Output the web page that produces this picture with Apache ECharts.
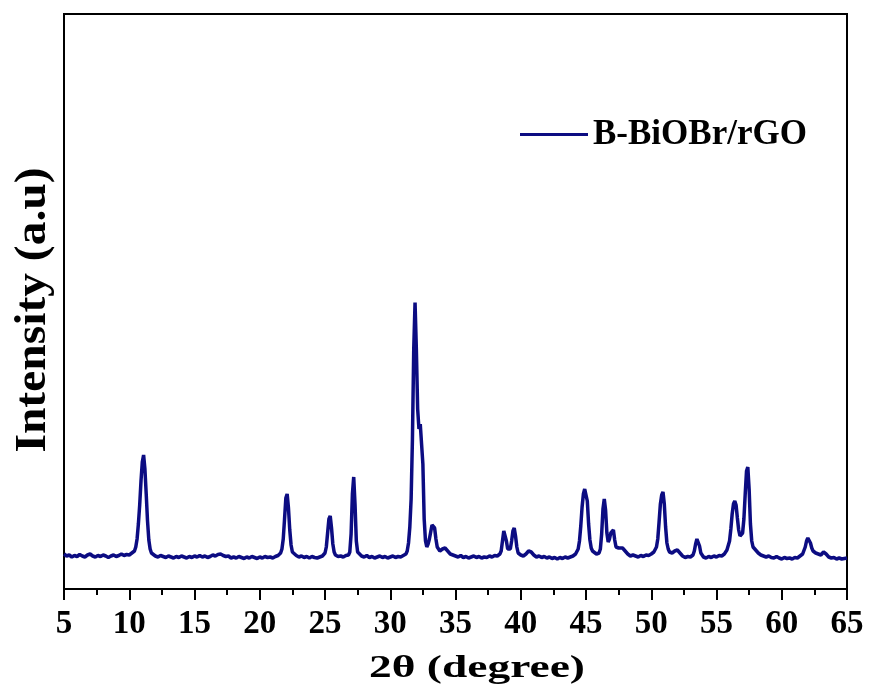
<!DOCTYPE html>
<html>
<head>
<meta charset="utf-8">
<title>XRD pattern of B-BiOBr/rGO</title>
<script src="https://cdn.jsdelivr.net/npm/echarts@6/dist/echarts.min.js"></script>
<style>
  html, body { margin: 0; padding: 0; background: #fff; }
  #chart { width: 872px; height: 688px; }
</style>
</head>
<body>
<div id="chart"></div>
<script>
// Diffraction angle (2θ, degrees)
const twoTheta = [
  5.0,5.2,5.4,5.6,5.8,6.0,6.2,6.4,6.6,6.8,7.0,7.2,7.4,7.6,7.8,8.0,8.2,8.4,8.6,8.8,
  9.0,9.2,9.4,9.6,9.8,10.0,10.2,10.4,10.5,10.6,10.7,10.8,10.9,11.0,11.1,11.2,11.3,11.4,11.5,11.6,
  11.7,11.8,12.0,12.2,12.4,12.6,12.8,13.0,13.2,13.4,13.6,13.8,14.0,14.2,14.4,14.6,14.8,15.0,15.2,15.4,
  15.6,15.8,16.0,16.2,16.4,16.6,16.8,17.0,17.2,17.4,17.6,17.8,18.0,18.2,18.4,18.6,18.8,19.0,19.2,19.4,
  19.6,19.8,20.0,20.2,20.4,20.6,20.8,21.0,21.2,21.4,21.6,21.7,21.8,21.9,22.0,22.1,22.2,22.3,22.4,22.5,
  22.6,22.8,23.0,23.2,23.4,23.6,23.8,24.0,24.2,24.4,24.6,24.8,25.0,25.1,25.2,25.3,25.4,25.5,25.6,25.7,
  25.8,26.0,26.2,26.4,26.6,26.8,26.9,27.0,27.1,27.2,27.3,27.4,27.5,27.6,27.8,28.0,28.2,28.4,28.6,28.8,
  29.0,29.2,29.4,29.6,29.8,30.0,30.2,30.4,30.6,30.8,31.0,31.2,31.3,31.4,31.5,31.6,31.7,31.8,31.9,32.0,
  32.1,32.2,32.3,32.4,32.5,32.6,32.7,32.8,32.9,33.0,33.1,33.2,33.3,33.4,33.5,33.6,33.8,34.0,34.2,34.4,
  34.6,34.8,35.0,35.2,35.4,35.6,35.8,36.0,36.2,36.4,36.6,36.8,37.0,37.2,37.4,37.6,37.8,38.0,38.2,38.4,
  38.5,38.6,38.7,38.8,38.9,39.0,39.1,39.2,39.3,39.4,39.5,39.6,39.7,39.8,40.0,40.2,40.4,40.6,40.8,41.0,
  41.2,41.4,41.6,41.8,42.0,42.2,42.4,42.6,42.8,43.0,43.2,43.4,43.6,43.8,44.0,44.2,44.4,44.5,44.6,44.7,
  44.8,44.9,45.0,45.1,45.2,45.3,45.4,45.5,45.6,45.8,46.0,46.1,46.2,46.3,46.4,46.5,46.6,46.7,46.8,46.9,
  47.0,47.1,47.2,47.3,47.4,47.5,47.6,47.8,47.9,48.0,48.2,48.4,48.6,48.8,49.0,49.2,49.4,49.6,49.8,50.0,
  50.2,50.4,50.5,50.6,50.7,50.8,50.9,51.0,51.1,51.2,51.3,51.4,51.6,51.8,52.0,52.2,52.4,52.6,52.8,53.0,
  53.2,53.3,53.4,53.5,53.6,53.7,53.8,54.0,54.2,54.4,54.6,54.8,55.0,55.2,55.4,55.6,55.8,56.0,56.1,56.2,
  56.3,56.4,56.5,56.6,56.7,56.8,56.9,57.0,57.1,57.2,57.3,57.4,57.5,57.6,57.7,57.8,58.0,58.2,58.4,58.6,
  58.8,59.0,59.2,59.4,59.6,59.8,60.0,60.2,60.4,60.6,60.8,61.0,61.2,61.4,61.6,61.8,61.9,62.0,62.1,62.2,
  62.3,62.4,62.6,62.8,63.0,63.2,63.4,63.6,63.8,64.0,64.2,64.4,64.6,64.8,65.0
];

// Measured intensity (a.u.) at each angle
const intensity = [
  70,66,68,64,67,65,69,66,64,68,70,66,64,67,65,68,66,63,66,68,
  65,67,70,67,69,68,72,76,84,100,130,168,216,254,268,240,190,136,98,80,
  72,68,66,64,67,65,63,66,64,62,65,63,66,64,62,65,63,66,64,67,
  64,66,63,65,68,66,69,70,67,65,66,62,64,62,65,63,61,64,62,65,
  63,61,64,62,65,63,64,62,65,67,72,80,100,140,182,190,162,118,88,74,
  70,67,64,66,63,65,62,65,63,62,64,66,72,84,112,140,146,122,90,74,
  68,65,66,64,67,68,74,110,190,224,170,96,74,70,66,64,67,63,65,62,
  64,66,63,65,62,64,66,63,65,64,67,70,76,92,124,180,300,480,573,480,
  360,320,330,332,250,140,96,84,90,100,114,128,132,122,100,84,76,80,82,76,
  70,68,66,64,67,63,65,62,64,66,63,65,62,64,63,66,64,67,66,70,
  76,96,116,114,96,80,76,80,96,116,122,106,84,72,68,66,70,76,74,68,
  64,66,63,65,62,64,61,63,60,63,61,64,62,64,66,70,80,96,126,164,
  190,200,202,176,130,98,82,76,72,70,72,80,110,160,180,158,112,94,100,112,
  116,118,98,84,80,82,80,82,84,76,70,66,68,66,64,67,65,68,67,70,
  74,84,100,134,170,188,194,170,124,92,80,74,72,76,78,72,66,63,65,64,
  68,76,90,100,102,86,72,64,62,65,63,66,64,67,66,70,78,96,120,150,
  170,176,168,142,118,106,104,112,140,190,236,244,200,130,96,84,78,72,68,66,
  64,66,63,62,65,62,60,63,61,62,60,63,62,66,70,84,96,102,104,92,
  82,76,72,70,68,74,70,64,62,63,60,62,60,61,62
];

// Axis ticks and labels
const xTicks = [5, 10, 15, 20, 25, 30, 35, 40, 45, 50, 55, 60, 65];
const seriesName = 'B-BiOBr/rGO';
const xTitle = '2θ (degree)';
const yTitle = 'Intensity (a.u)';

const serif = '"Times New Roman", "Liberation Serif", serif';
const lineColor = '#0c0c82';

const points = twoTheta.map((t, i) => [t, intensity[i]]);

const chart = echarts.init(document.getElementById('chart'), null, { renderer: 'canvas' });

chart.setOption({
  animation: false,
  backgroundColor: '#ffffff',
  grid: {
    left: 64, right: 25, top: 14, bottom: 99,
    containLabel: false,
    outerBoundsMode: 'none',
    show: true, borderColor: '#000', borderWidth: 2, backgroundColor: 'transparent'
  },
  legend: {
    show: true,
    left: 515, top: 112,
    itemWidth: 68, itemHeight: 3,
    icon: 'rect',
    itemGap: 10,
    data: [seriesName],
    itemStyle: { color: lineColor },
    textStyle: { fontFamily: serif, fontWeight: 'bold', fontSize: 35, color: '#000' }
  },
  xAxis: {
    type: 'value',
    min: xTicks[0], max: xTicks[xTicks.length - 1], interval: 5,
    axisLine: { show: true, onZero: false, lineStyle: { color: '#000', width: 2 } },
    axisTick: { show: true, inside: false, length: 11, lineStyle: { color: '#000', width: 2 } },
    minorTick: { show: true, splitNumber: 2, length: 6, lineStyle: { color: '#000', width: 2 } },
    splitLine: { show: false },
    axisLabel: {
      margin: 19, fontFamily: serif, fontWeight: 'bold', fontSize: 33, color: '#000',
      formatter: v => String(v)
    }
  },
  yAxis: {
    type: 'value',
    min: 0, max: 1150,
    axisLine: { show: false },
    axisTick: { show: false },
    axisLabel: { show: false },
    splitLine: { show: false }
  },
  graphic: [{
    type: 'text',
    x: 477, y: 669,
    scaleX: 1.42, scaleY: 1,
    style: {
      text: xTitle,
      font: 'bold 32px ' + serif,
      fill: '#000',
      textAlign: 'center',
      textVerticalAlign: 'middle'
    }
  }, {
    type: 'text',
    x: 34, y: 310,
    rotation: Math.PI / 2,
    scaleX: 1.08, scaleY: 1,
    style: {
      text: yTitle,
      font: 'bold 44px ' + serif,
      fill: '#000',
      textAlign: 'center',
      textVerticalAlign: 'middle'
    }
  }],
  series: [{
    name: seriesName,
    type: 'line',
    data: points,
    symbol: 'none',
    smooth: false,
    lineStyle: { color: lineColor, width: 3.5 },
    itemStyle: { color: lineColor }
  }]
});
</script>
</body>
</html>
